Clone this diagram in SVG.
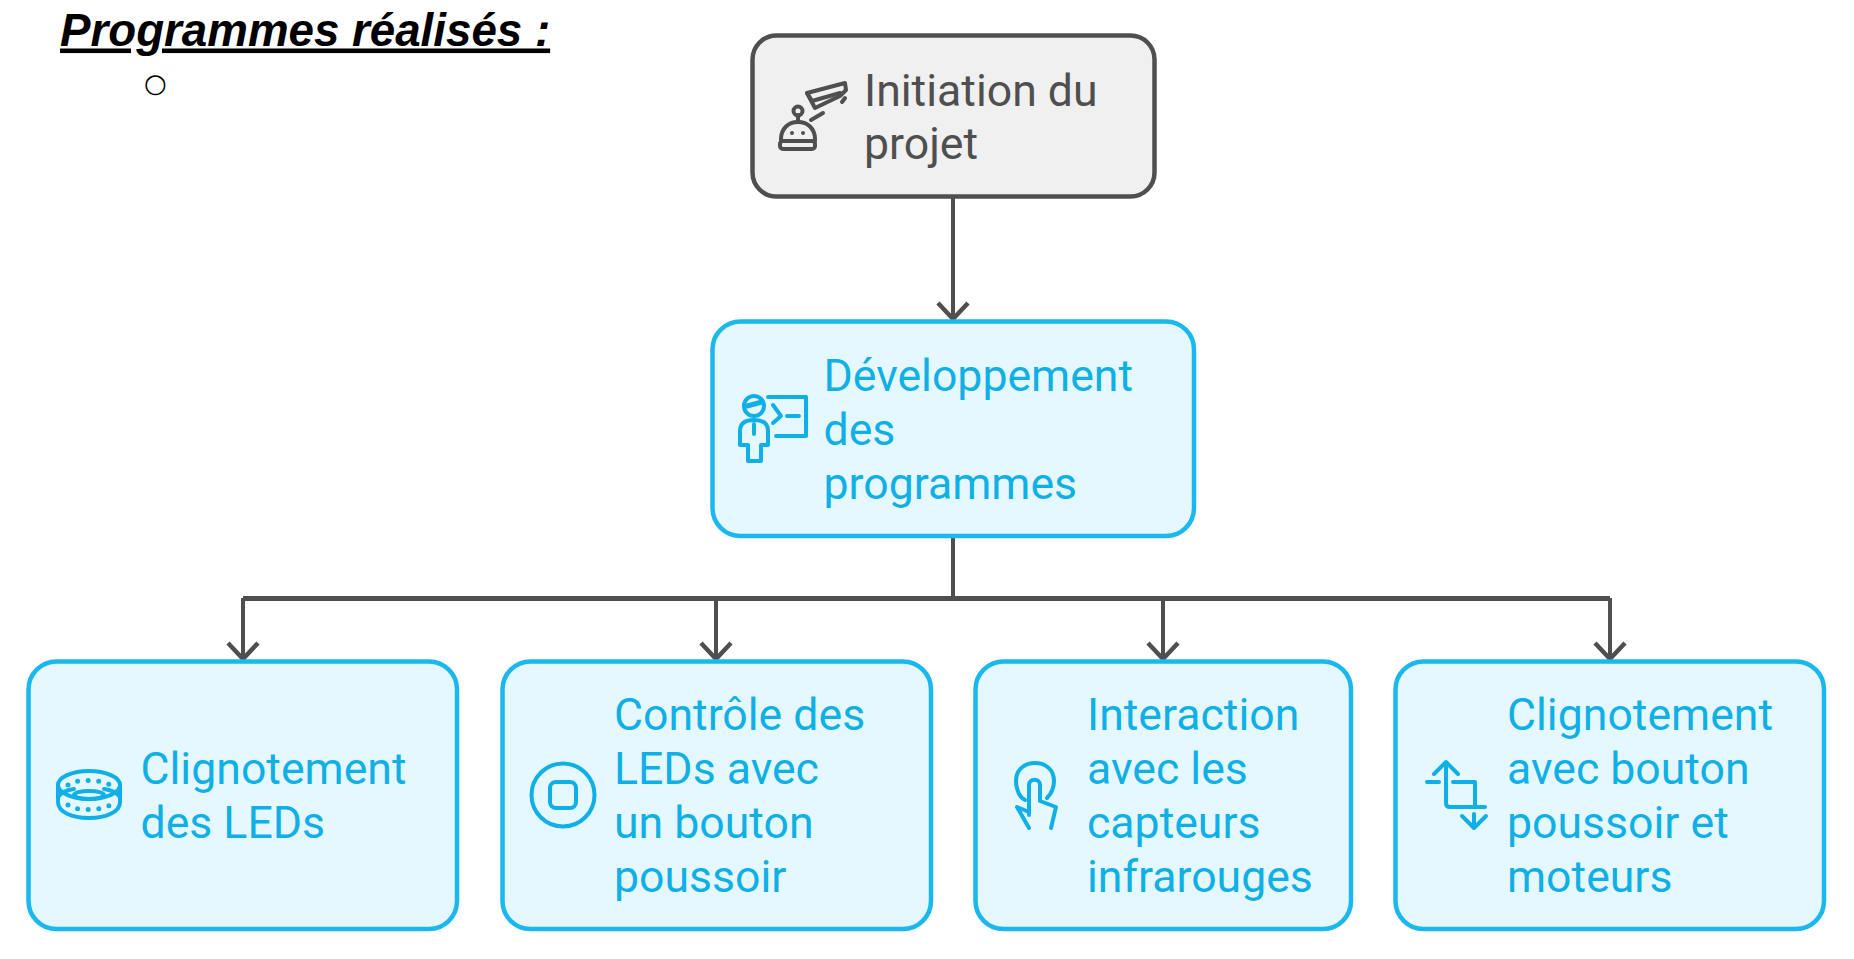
<svg xmlns="http://www.w3.org/2000/svg" width="1854" height="959" viewBox="0 0 1854 959">
<style>
text{font-family:Roboto,"Liberation Sans",sans-serif;font-size:44.6px}
.b{fill:#e5f8ff;stroke:#1ab8ec;stroke-width:4.5}
.g{fill:#f0f0f0;stroke:#4f4f4f;stroke-width:4.5}
.tb{fill:#10b0e6}
.tg{fill:#4f4f4f}
.ib{fill:none;stroke:#10b0e6;stroke-width:4;stroke-linecap:round;stroke-linejoin:round}
.ig{fill:none;stroke:#4f4f4f;stroke-width:4;stroke-linecap:round;stroke-linejoin:round}
.c{fill:none;stroke:#4f4f4f;stroke-width:4}
.h{fill:none;stroke:#4f4f4f;stroke-width:5}
.a{fill:none;stroke:#4f4f4f;stroke-width:4.5;stroke-linejoin:miter}
</style>
<g id="title">
<text x="60" y="45.500" style="font-family:'Liberation Sans',Arial,sans-serif;font-weight:bold;font-style:italic;font-size:45.7px;text-decoration-thickness:4.500px;text-underline-offset:5px;text-decoration-skip-ink:none" text-decoration="underline" fill="#000">Programmes réalisés :</text>
<text x="144" y="92" style="font-family:'DejaVu Sans',sans-serif;font-size:26px" fill="#000">○</text>
</g>
<g id="connectors">
<path class="c" d="M953 197V319"/>
<path class="a" d="M938 303L953 319L968 303"/>
<path class="c" d="M953 537V600"/>
<path class="h" d="M243 598.500H1610"/>
<path class="c" d="M243 598V659M716 598V659M1163 598V659M1610 598V659"/>
<path class="a" d="M228 643L243 659L258 643M701 643L716 659L731 643M1148 643L1163 659L1178 643M1595 643L1610 659L1625 643"/>
</g>
<g id="node-initiation">
<rect class="g" x="752.500" y="35.500" width="402" height="161" rx="24"/>
<g class="ig">
<path d="M781 141V139C781 129 788 122 798 122C808 122 815 129 815 139V141"/>
<rect x="780" y="141" width="35" height="8" rx="3"/>
<circle cx="798" cy="111" r="4.500"/>
<path d="M798 115V122"/>
<path d="M811 120L823 113"/>
<path d="M807 93L845 83L846 90L840 96L815 108Z"/>
<path d="M807 93L812 101L840 93"/>
<path d="M845 98L842 102"/>
<path d="M792 133h0M803 133h0"/>
</g>
<text class="tg"><tspan x="864" y="105.500">Initiation du</tspan><tspan x="864" y="159">projet</tspan></text>
</g>
<g id="node-developpement">
<rect class="b" x="712.500" y="321.500" width="481.500" height="214.500" rx="28"/>
<g class="ib">
<circle cx="754" cy="406" r="10"/>
<path d="M747 406L762 402" stroke-width="5"/>
<path d="M740 445V431C740 423 746 420 754 420C762 420 768 423 768 431V445H761V461H748V445Z"/>
<path d="M754 424V434"/>
<path d="M768 397H806V436H776"/>
<path d="M773 405L781 416L773 423M787 416H799"/>
</g>
<text class="tb"><tspan x="823.500" y="391">Développement</tspan><tspan x="823.500" y="445">des</tspan><tspan x="823.500" y="499">programmes</tspan></text>
</g>
<g id="node-clignotement-leds">
<rect class="b" x="28.500" y="661.500" width="428.500" height="267.500" rx="28"/>
<g class="ib">
<ellipse cx="89" cy="785" rx="31" ry="14"/>
<ellipse cx="89" cy="795" rx="15" ry="4"/>
<path d="M58 785V802C58 812 72 818 89 818C106 818 120 812 120 802V785"/>
<path d="M59 796C62 792 67 790 74 789M119 796C116 792 111 790 104 789"/>
<path stroke-dasharray="0 10.500" stroke-width="5" d="M68 785C72 780 100 778 110 785"/>
<path stroke-dasharray="0 10.500" stroke-width="5" d="M68 805C74 811 102 811 110 805"/>
</g>
<text class="tb"><tspan x="140.500" y="784">Clignotement</tspan><tspan x="140.500" y="838">des LEDs</tspan></text>
</g>
<g id="node-controle-leds">
<rect class="b" x="502.500" y="661.500" width="428.500" height="267.500" rx="28"/>
<g class="ib">
<circle cx="563" cy="795" r="31.500"/>
<rect x="550" y="782" width="26" height="26" rx="6"/>
</g>
<text class="tb"><tspan x="614" y="730">Contrôle des</tspan><tspan x="614" y="784">LEDs avec</tspan><tspan x="614" y="838">un bouton</tspan><tspan x="614" y="892">poussoir</tspan></text>
</g>
<g id="node-interaction">
<rect class="b" x="975.500" y="661.500" width="375.500" height="267.500" rx="28"/>
<g class="ib">
<path d="M1025 800C1017 796 1016 784 1016 781C1016 770 1024 763 1035 763C1046 763 1054 770 1054 781C1054 786 1052 793 1047 798"/>
<path d="M1029 815V785C1029 778 1040 778 1040 785V801L1056 807L1051 828"/>
<path d="M1029 812L1017 807L1029 828"/>
</g>
<text class="tb"><tspan x="1087" y="730">Interaction</tspan><tspan x="1087" y="784">avec les</tspan><tspan x="1087" y="838">capteurs</tspan><tspan x="1087" y="892">infrarouges</tspan></text>
</g>
<g id="node-clignotement-bouton">
<rect class="b" x="1395.500" y="661.500" width="428.500" height="267.500" rx="28"/>
<g class="ib">
<path d="M1427 782H1439M1453 782H1475V807"/>
<path d="M1446 765V803Q1446 807 1450 807H1485"/>
<path d="M1434 774L1446 762L1458 774"/>
<path d="M1462 816L1474 828L1486 816M1474 814V827"/>
</g>
<text class="tb"><tspan x="1507" y="730">Clignotement</tspan><tspan x="1507" y="784">avec bouton</tspan><tspan x="1507" y="838">poussoir et</tspan><tspan x="1507" y="892">moteurs</tspan></text>
</g>
</svg>
